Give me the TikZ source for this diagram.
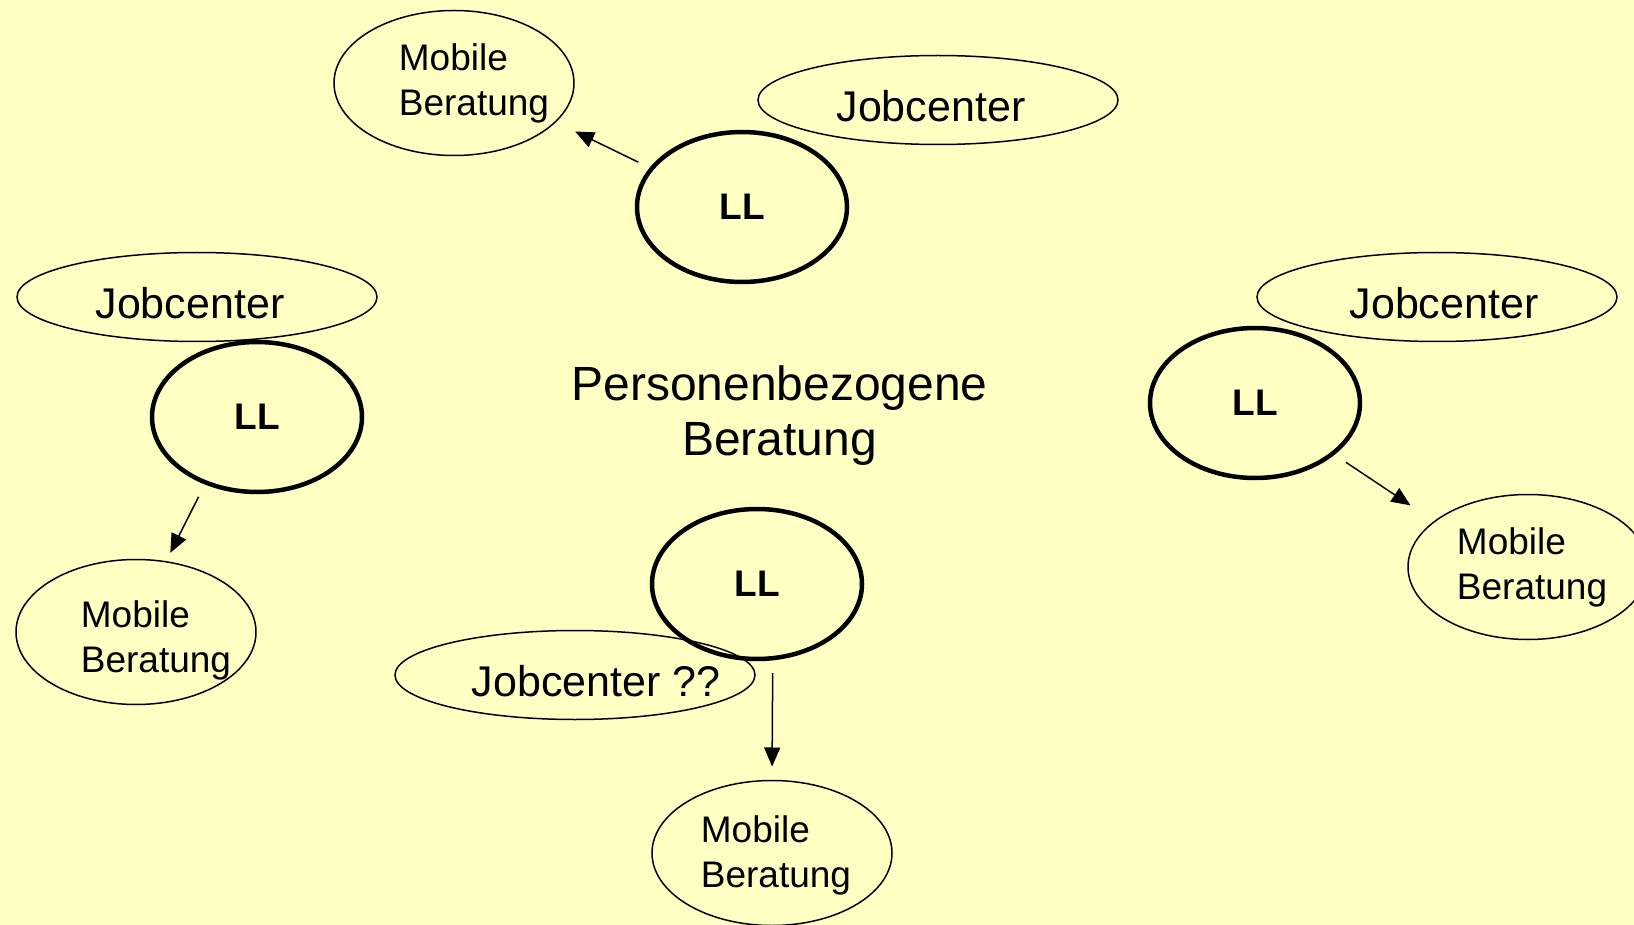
\documentclass[tikz,border=0pt]{standalone}
\usepackage{fontspec}
\setmainfont{Liberation Sans}
\usetikzlibrary{shapes.geometric,arrows.meta}
\definecolor{paper}{RGB}{255,255,196}
\tikzset{
  llbox/.style={ellipse,draw,line width=4.5pt,minimum width=210pt,minimum height=150pt,inner sep=0pt,outer sep=0pt,font=\fontsize{37}{44}\selectfont\bfseries},
  jobbox/.style={ellipse,draw,line width=1.5pt,minimum width=360pt,minimum height=89pt,inner sep=0pt,outer sep=0pt,text height=43pt,text depth=0pt,font=\fontsize{43}{50}\selectfont},
  mobtext/.style={align=left,inner sep=0pt,font=\fontsize{37}{45}\selectfont},
  mobbox/.style 2 args={ellipse,draw,line width=1.5pt,minimum width=240pt,minimum height=145pt,inner sep=0pt,outer sep=0pt,
    label={[mobtext,xshift=#1,yshift=#2]center:Mobile\\Beratung}},
  topic/.style={align=center,font=\fontsize{48}{55}\selectfont},
  arr/.style={-{Triangle[length=19pt,width=16pt]},line width=1.5pt}
}
\begin{document}
\begin{tikzpicture}[x=1pt,y=-1pt]
\fill[paper] (0,0) rectangle (1634,925);
\useasboundingbox (0,0) rectangle (1634,925);

\node[mobbox={20pt}{0pt}] (mobT) at (454,83) {};
\node[jobbox] (jobT) at (938,100) {\hspace*{-7pt}Jobcenter\hspace*{7pt}};
\node[llbox] (llT) at (742,207) {LL};

\node[jobbox] (jobL) at (197,297) {\hspace*{-7pt}Jobcenter\hspace*{7pt}};
\node[llbox] (llL) at (257,417) {LL};
\node[mobbox={20pt}{-8pt}] (mobL) at (136,632) {};

\node[jobbox] (jobR) at (1437,297) {\hspace*{7pt}Jobcenter\hspace*{-7pt}};
\node[llbox] (llR) at (1255,403) {LL};
\node[mobbox={4pt}{0pt}] (mobR) at (1528,567) {};

\node[llbox] (llB) at (757,584) {LL};
\node[jobbox] (jobB) at (575,675) {\hspace*{21pt}Jobcenter ??\hspace*{-21pt}};
\node[mobbox={4pt}{-2pt}] (mobB) at (772,853) {};

\node[topic] (thema) at (779.5,416) {Personenbezogene\\Beratung};

\path[arr] (llT.157) edge[shorten <=15pt,shorten >=22pt] (mobT.-21.5)
           (llL.232) edge[shorten <=16pt,shorten >=10pt] (mobL.67.6)
           (llR.-33.8) edge[shorten <=16pt,shorten >=29pt] (mobR.154.4)
           (llB.-78.6) edge[shorten <=15pt,shorten >=14pt] (mobB.90);
\end{tikzpicture}
\end{document}
